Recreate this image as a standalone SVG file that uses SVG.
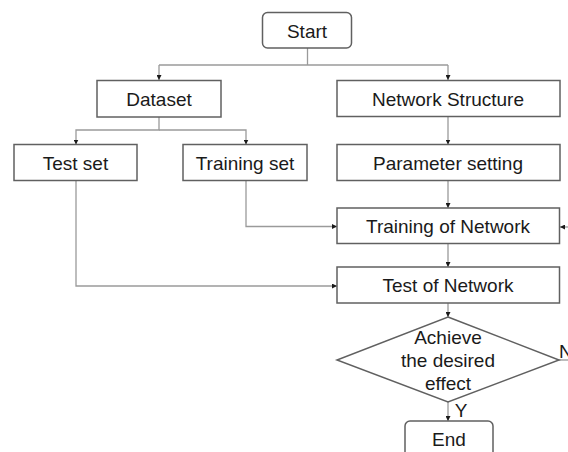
<svg xmlns="http://www.w3.org/2000/svg" width="568" height="452" viewBox="0 0 568 452">
<style>
.box{fill:#fff;stroke:#606060;stroke-width:1.5}
.t{font-family:"Liberation Sans",Arial,sans-serif;font-size:19px;fill:#1a1a1a;text-anchor:middle}
.c{fill:none;stroke:#9a9a9a;stroke-width:1.3}
</style>
<defs>
<marker id="ah" viewBox="0 0 10 10" refX="10" refY="5" markerWidth="5" markerHeight="5" markerUnits="userSpaceOnUse" orient="auto">
<path d="M0,0 L10,5 L0,10 z" fill="#1a1a1a"/>
</marker>
</defs>
<rect width="568" height="452" fill="#fff"/>
<g id="connectors">
<path class="c" d="M307.5,48 V65"/>
<path class="c" d="M159,65 H448"/>
<path class="c" d="M159,65 V80" marker-end="url(#ah)"/>
<path class="c" d="M448,65 V80" marker-end="url(#ah)"/>
<path class="c" d="M159,117 V130 H76 V144.5" marker-end="url(#ah)"/>
<path class="c" d="M159,130 H246 V144.5" marker-end="url(#ah)"/>
<path class="c" d="M448,116.5 V144.5" marker-end="url(#ah)"/>
<path class="c" d="M448,180.5 V208" marker-end="url(#ah)"/>
<path class="c" d="M246,180.5 V226.5 H337" marker-end="url(#ah)"/>
<path class="c" d="M448,244 V267" marker-end="url(#ah)"/>
<path class="c" d="M76,180.5 V286 H337" marker-end="url(#ah)"/>
<path class="c" d="M448,303 V317" marker-end="url(#ah)"/>
<path class="c" d="M448,402 V421" marker-end="url(#ah)"/>
<path class="c" d="M559,360 H568"/>
<path class="c" d="M568,227 H560" marker-end="url(#ah)"/>
</g>
<g id="start"><rect class="box" x="262.5" y="12.5" width="89" height="35.5" rx="5"/><text class="t" x="307" y="37.5">Start</text></g>
<g id="dataset"><rect class="box" x="97" y="80.5" width="124" height="36.5"/><text class="t" x="159" y="105.5">Dataset</text></g>
<g id="network-structure"><rect class="box" x="337" y="80.5" width="223" height="36"/><text class="t" x="448" y="105.5">Network Structure</text></g>
<g id="test-set"><rect class="box" x="14" y="144.5" width="123" height="36"/><text class="t" x="75.5" y="169.5">Test set</text></g>
<g id="training-set"><rect class="box" x="183" y="144.5" width="124" height="36"/><text class="t" x="245" y="169.5">Training set</text></g>
<g id="parameter-setting"><rect class="box" x="337" y="144.5" width="223" height="36"/><text class="t" x="448" y="169.5">Parameter setting</text></g>
<g id="training-of-network"><rect class="box" x="337" y="208" width="222.5" height="35.5"/><text class="t" x="448" y="233">Training of Network</text></g>
<g id="test-of-network"><rect class="box" x="337" y="267" width="222.5" height="36"/><text class="t" x="448" y="292">Test of Network</text></g>
<g id="decision"><polygon class="box" points="448,317 559,360 448,402 337,360"/>
<text class="t" x="448" y="344">Achieve</text><text class="t" x="448" y="367">the desired</text><text class="t" x="448" y="389.5">effect</text></g>
<g id="end"><rect class="box" x="405" y="421" width="88" height="45" rx="5"/><text class="t" x="449" y="446">End</text></g>
<g id="labels"><text class="t" x="461" y="416.5">Y</text><text class="t" x="559" y="358" style="text-anchor:start">N</text></g>
</svg>
